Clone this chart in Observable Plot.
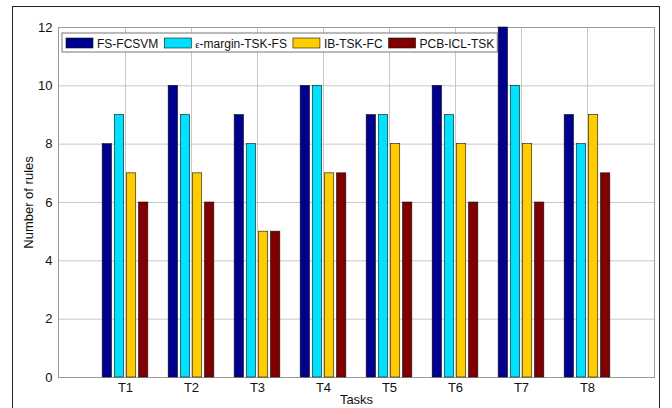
<!DOCTYPE html>
<html>
<head>
<meta charset="utf-8">
<script src="https://cdn.jsdelivr.net/npm/d3@7"></script>
<script src="https://cdn.jsdelivr.net/npm/@observablehq/plot@0.6"></script>
<style>
  body { margin: 0; background: #fff; }
  #wrap { position: relative; width: 672px; height: 408px; overflow: hidden; }
  #frame { position: absolute; left: 12px; top: 6px; width: 648px; height: 420px;
           border: 1.5px solid #222; box-sizing: border-box; pointer-events: none; }
  svg { font-family: "Liberation Sans", Arial, sans-serif; }
</style>
</head>
<body>
<div id="wrap"><div id="frame"></div></div>
<script>
// Number of fuzzy rules per task for each method
const tasks = ["T1", "T2", "T3", "T4", "T5", "T6", "T7", "T8"];
const methods = ["FS-FCSVM", "ε-margin-TSK-FS", "IB-TSK-FC", "PCB-ICL-TSK"];
const colors = ["#00008f", "#00e1ff", "#ffcc00", "#800000"];
const fsFcsvm   = [8, 10, 9, 10, 9, 10, 12, 9];
const epsMargin = [9, 9, 8, 10, 9, 9, 10, 8];
const ibTskFc   = [7, 7, 5, 7, 8, 8, 8, 9];
const pcbIclTsk = [6, 6, 5, 7, 6, 6, 6, 7];
const yTicks = [0, 2, 4, 6, 8, 10, 12];

const series = [fsFcsvm, epsMargin, ibTskFc, pcbIclTsk];

const width = 672, height = 408;
const margin = {left: 58, right: 18, top: 27, bottom: 31};
const band = (width - margin.left - margin.right) / 9;   // one task slot
const barW = 9.6, step = 12.1;
const groupW = step * 3 + barW;

// one barY mark per method, shifted inside the task band with insets
const barMarks = series.map((vals, j) => {
  const left = (band - groupW) / 2 + j * step;
  const right = band - left - barW;
  return Plot.barY(tasks.map((t, i) => ({task: t, value: vals[i]})), {
    x: "task", y: "value", fill: colors[j],
    stroke: "#111", strokeWidth: 0.6,
    insetLeft: left, insetRight: right
  });
});

const chart = Plot.plot({
  width, height,
  marginLeft: margin.left, marginRight: margin.right,
  marginTop: margin.top, marginBottom: margin.bottom,
  style: {fontFamily: "Liberation Sans, Arial, sans-serif", fontSize: "13px", color: "#111", background: "transparent"},
  x: {domain: tasks, paddingInner: 0, paddingOuter: 0.5, align: 0.5, label: null},
  y: {domain: [0, 12], label: null},
  marks: [
    Plot.gridY(yTicks, {stroke: "#c8c8c8", strokeOpacity: 1}),
    Plot.gridX(tasks, {stroke: "#c8c8c8", strokeOpacity: 1}),
    Plot.frame({stroke: "#9a9a9a"}),
    Plot.ruleX([0], {frameAnchor: "left", stroke: "#555"}),
    Plot.axisY(yTicks, {tickSize: 0, tickPadding: 6, fontSize: 13, label: null}),
    Plot.axisX(tasks, {tickSize: 0, tickPadding: 5, fontSize: 13, label: null}),
    ...barMarks,
    Plot.text(["Number of rules"], {frameAnchor: "left", dx: -30, rotate: -90, fontSize: 13, textAnchor: "middle"}),
    Plot.text(["Tasks"], {frameAnchor: "bottom", dy: 26, fontSize: 13})
  ]
});

document.getElementById("wrap").prepend(chart);

// legend box in the upper-left corner of the plot area
const svg = d3.select(chart);
const lg = svg.append("g")
  .attr("transform", `translate(${margin.left + 4},${margin.top + 6})`)
  .attr("text-anchor", "start");
const box = lg.append("rect").attr("x", 0).attr("y", 0).attr("height", 19)
  .attr("fill", "#fff").attr("stroke", "#777").attr("stroke-width", 1);
let cx = 4;
methods.forEach((m, j) => {
  lg.append("rect").attr("x", cx).attr("y", 5).attr("width", 27).attr("height", 10)
    .attr("fill", colors[j]).attr("stroke", "#111").attr("stroke-width", 0.6);
  cx += 31;
  const t = lg.append("text").attr("x", cx).attr("y", 14.5)
    .attr("text-anchor", "start")
    .attr("font-size", 12).attr("fill", "#111");
  if (m.startsWith("ε")) {
    t.append("tspan").attr("font-size", 9.5).text("ε");
    t.append("tspan").text(m.slice(1));
  } else {
    t.text(m);
  }
  cx += t.node().getComputedTextLength() + 6;
});
box.attr("width", cx - 3);
</script>
</body>
</html>
